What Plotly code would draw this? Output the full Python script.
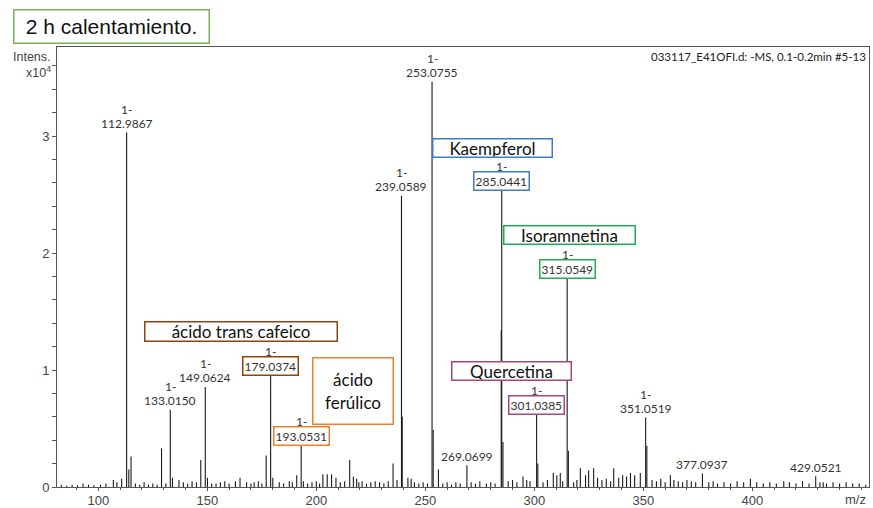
import plotly.graph_objects as go

# ---------------- data ----------------
peak_mz = [112.9867, 133.0150, 149.0624, 179.0374, 193.0531, 239.0589, 253.0755,
           269.0699, 285.0441, 301.0385, 315.0549, 351.0519, 377.0937, 429.0521]
peak_int = [3.03, 0.66, 0.855, 0.955, 0.363, 2.49, 3.465,
            0.186, 2.54, 0.628, 1.79, 0.594, 0.115, 0.092]
peak_charge = ["1-", "1-", "1-", "1-", "1-", "1-", "1-",
               "", "1-", "1-", "1-", "1-", "", ""]
peak_box = [None, None, None, "#8B4513", "#F07F2E", None, None,
            None, "#3F7CC0", "#A8467A", "#1DB050", None, None, None]

minor_mz = [106.9, 110.7, 113.99, 115.0, 129.0, 134.0, 137.0, 143.0, 147.0, 150.06,
            162.9, 165.0, 173.4, 177.0, 180.04, 187.6, 191.0, 194.05, 203.0, 205.0,
            207.0, 209.0, 215.3, 217.0, 218.5, 221.0, 225.0, 235.2, 237.0, 239.4,
            242.0, 243.5, 253.6, 256.0, 284.8, 285.6, 294.8, 296.5, 301.6, 308.7,
            310.3, 311.9, 315.6, 321.1, 323.5, 324.9, 327.2, 336.4, 338.7, 340.5,
            342.3, 344.1, 346.0, 348.6, 351.6, 362.4, 399.1, 414.4, 432.5]
minor_int = [0.06, 0.07, 0.15, 0.26, 0.33, 0.08, 0.06, 0.05, 0.23, 0.08,
             0.05, 0.08, 0.05, 0.27, 0.08, 0.05, 0.10, 0.05, 0.11, 0.11,
             0.11, 0.08, 0.23, 0.09, 0.07, 0.05, 0.04, 0.20, 0.06, 0.60,
             0.08, 0.07, 0.49, 0.15, 1.34, 0.385, 0.09, 0.06, 0.20, 0.12,
             0.10, 0.12, 0.31, 0.16, 0.10, 0.14, 0.16, 0.16, 0.08, 0.10,
             0.09, 0.12, 0.10, 0.12, 0.35, 0.10, 0.07, 0.05, 0.04]

noise_mz = [83, 85.5, 88, 90.5, 93, 95.5, 98, 101, 103.5, 108.5, 117, 119, 121, 123,
            125, 127, 131, 139, 141, 145, 152, 154, 156, 158, 160, 168, 170, 171.5,
            175, 183, 185, 189, 196, 198, 200, 201.5, 211, 213, 219.5, 223, 227, 229,
            231, 233, 245, 247, 249, 251, 258, 260, 262, 264, 266, 271, 273, 275,
            278, 280, 282, 288, 290, 292, 298, 304, 306, 313, 318, 319.5, 329, 331,
            333, 335, 354, 356, 358, 360, 364, 366, 368, 370, 372, 374, 380, 382,
            384, 387, 390, 393, 396, 402, 405, 408, 411, 417, 420, 423, 426, 431,
            434, 437, 440, 443, 446, 449, 452]
noise_int = [0.02, 0.01, 0.02, 0.015, 0.03, 0.02, 0.015, 0.02, 0.03, 0.04, 0.03, 0.02, 0.04, 0.02,
             0.03, 0.02, 0.03, 0.04, 0.03, 0.04, 0.03, 0.03, 0.04, 0.05, 0.03, 0.04, 0.03, 0.04,
             0.03, 0.04, 0.03, 0.04, 0.03, 0.04, 0.05, 0.03, 0.04, 0.05, 0.04, 0.03, 0.05, 0.04,
             0.03, 0.05, 0.04, 0.03, 0.04, 0.03, 0.03, 0.04, 0.02, 0.04, 0.03, 0.04, 0.03, 0.05,
             0.03, 0.04, 0.03, 0.05, 0.06, 0.04, 0.05, 0.04, 0.06, 0.05, 0.04, 0.06, 0.08, 0.06,
             0.07, 0.05, 0.06, 0.05, 0.07, 0.04, 0.06, 0.05, 0.04, 0.06, 0.05, 0.04, 0.04, 0.05,
             0.03, 0.04, 0.03, 0.05, 0.04, 0.04, 0.03, 0.04, 0.03, 0.04, 0.03, 0.05, 0.03, 0.04,
             0.03, 0.04, 0.03, 0.04, 0.03, 0.03, 0.02]

x_ticks = [100, 150, 200, 250, 300, 350, 400]
y_ticks = [0, 1, 2, 3]

compounds = ["ácido trans cafeico", "ácido<br>ferúlico", "Kaempferol", "Isoramnetina", "Quercetina"]
compound_colors = ["#8B4513", "#F07F2E", "#3F7CC0", "#1DB050", "#A8467A"]

# ---------------- layout geometry (pixels) ----------------
W, H = 873, 508
L, R, T, B = 57, 4, 47, 21
PW, PH = W - L - R, H - T - B
XR = [81.05, 453.5]
YR = [0.0, 3.761]


def px(xp):
    return (xp - L) / PW


def py(yp):
    return (H - B - yp) / PH


# compound box positions: (center x px, center y px, width, height)
compound_geom = [(240.5, 331, 193, 20), (352.5, 390.5, 81, 67), (492, 148, 120, 19),
                 (569, 235, 132, 19), (512, 370.5, 120, 19)]

# ---------------- stick spectrum ----------------
assert len(minor_mz) == len(minor_int)
assert len(noise_mz) == len(noise_int)
xs, ys = [], []
for mz_list, it_list in ((noise_mz, noise_int), (minor_mz, minor_int), (peak_mz, peak_int)):
    for m, h in zip(mz_list, it_list):
        xs += [m, m, None]
        ys += [0, h, None]

fig = go.Figure()
fig.add_trace(go.Scatter(x=xs, y=ys, mode="lines",
                         line=dict(color="#1a1a1a", width=1.1),
                         hoverinfo="skip", showlegend=False))

ann = []
lab_font = dict(family="Lato, Carlito, sans-serif", size=12, color="#333333")
for m, h, c, bc in zip(peak_mz, peak_int, peak_charge, peak_box):
    if c:
        ann.append(dict(x=m, y=h, xref="x", yref="y", text=c, showarrow=False,
                        xanchor="center", yanchor="middle", yshift=23.5, font=lab_font))
    d = dict(x=m, y=h, xref="x", yref="y", text=f"{m:.4f}", showarrow=False,
             xanchor="center", yanchor="middle", yshift=9, font=lab_font)
    if bc:
        d.update(bordercolor=bc, borderwidth=1.5, borderpad=1, bgcolor="white")
    ann.append(d)

for txt, col, (cx, cy, bw, bh) in zip(compounds, compound_colors, compound_geom):
    ann.append(dict(x=px(cx), y=py(cy), xref="paper", yref="paper", text=txt,
                    showarrow=False, xanchor="center", yanchor="middle",
                    width=bw - 2, height=bh - 2, borderpad=0, bordercolor=col,
                    borderwidth=1.5, bgcolor="white", align="center", valign="middle",
                    font=dict(family="Lato, Carlito, sans-serif", size=17, color="#111111")))

# title box
ann.append(dict(x=px(111), y=py(26), xref="paper", yref="paper",
                text="2 h calentamiento.", showarrow=False, xanchor="center",
                yanchor="middle", width=194, height=32, borderpad=0,
                bordercolor="#78B158", borderwidth=1.5, bgcolor="white",
                font=dict(family="Liberation Sans, Arial, sans-serif", size=21, color="#111111")))
# axis captions
axis_font = dict(family="Liberation Sans, Arial, sans-serif", size=12.5, color="#444444")
ann.append(dict(x=px(53), y=py(57), xref="paper", yref="paper", text="Intens.",
                showarrow=False, xanchor="right", yanchor="middle", font=axis_font))
ann.append(dict(x=px(53), y=py(72), xref="paper", yref="paper", text="x10<sup>4</sup>",
                showarrow=False, xanchor="right", yanchor="middle", font=axis_font))
ann.append(dict(x=px(855), y=py(499), xref="paper", yref="paper", text="m/z",
                showarrow=False, xanchor="center", yanchor="middle",
                font=dict(family="Liberation Sans, Arial, sans-serif", size=13, color="#444444")))
ann.append(dict(x=px(868), y=py(56), xref="paper", yref="paper",
                text="033117_E41OFI.d: -MS, 0.1-0.2min #5-13", showarrow=False,
                xanchor="right", yanchor="middle",
                font=dict(family="Lato, Carlito, sans-serif", size=11.5, color="#222222")))

tick_font = dict(family="Liberation Sans, Arial, sans-serif", size=13, color="#444444")
fig.update_layout(
    width=W, height=H,
    margin=dict(l=L, r=R, t=T, b=B, pad=0, autoexpand=False),
    paper_bgcolor="white", plot_bgcolor="white",
    annotations=ann,
    xaxis=dict(range=XR, tickmode="array", tickvals=x_ticks, ticktext=[str(v) for v in x_ticks],
               ticks="outside", ticklen=3, tickcolor="#555555", showgrid=False, zeroline=False,
               showline=True, linecolor="#555555", linewidth=1, mirror=True, automargin=False,
               tickfont=tick_font, ticklabelstandoff=-2,
               minor=dict(tickmode="linear", tick0=0, dtick=10, ticks="outside", ticklen=2,
                          tickcolor="#555555", showgrid=False)),
    yaxis=dict(range=YR, tickmode="array", tickvals=y_ticks, ticktext=[str(v) for v in y_ticks],
               ticks="outside", ticklen=4, tickcolor="#555555", showgrid=False, zeroline=False,
               showline=True, linecolor="#555555", linewidth=1, mirror=True, automargin=False,
               tickfont=tick_font,
               minor=dict(tickmode="linear", tick0=0, dtick=0.2, ticks="outside", ticklen=4,
                          tickcolor="#555555", showgrid=False)),
)

fig.write_html("out.html")
